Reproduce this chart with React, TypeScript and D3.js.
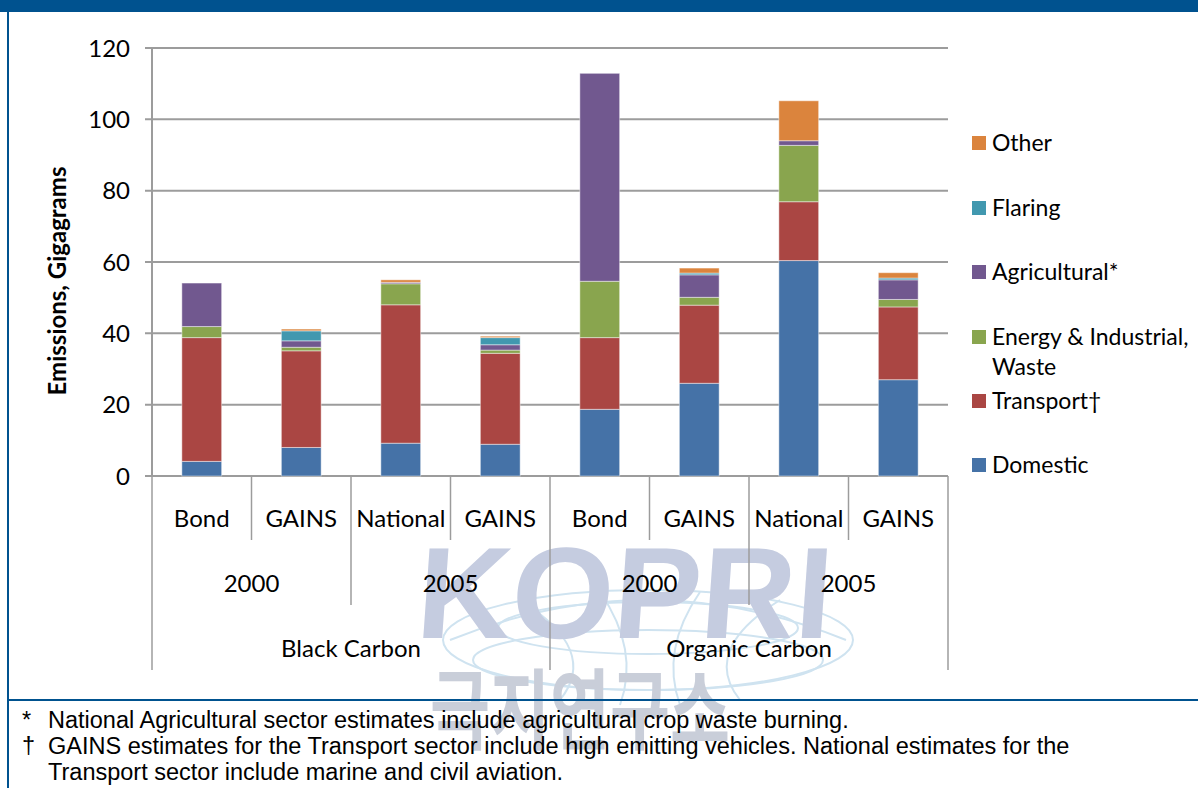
import React from "react";
import * as d3 from "d3";

// Emissions by sector (Gigagrams) for each inventory
const inventories = ["Bond", "GAINS", "National", "GAINS", "Bond", "GAINS", "National", "GAINS"];
const years = ["2000", "2005", "2000", "2005"];
const species = ["Black Carbon", "Organic Carbon"];

const domestic = [4.1, 8.0, 9.2, 8.9, 18.7, 26.0, 60.4, 27.0];
const transport = [34.7, 27.1, 38.8, 25.5, 20.1, 21.9, 16.5, 20.4];
const energy = [3.1, 1.0, 5.9, 0.9, 15.8, 2.2, 15.8, 2.1];
const agricultural = [12.2, 1.8, 0.4, 1.5, 58.3, 6.3, 1.3, 5.5];
const flaring = [0, 2.8, 0, 2.0, 0, 0.5, 0, 0.5];
const other = [0, 0.5, 0.7, 0.4, 0, 1.4, 11.2, 1.5];

const sectorKeys = ["domestic", "transport", "energy", "agricultural", "flaring", "other"];
const sectorLabels: Record<string, string[]> = {
  domestic: ["Domestic"],
  transport: ["Transport†"],
  energy: ["Energy & Industrial,", "Waste"],
  agricultural: ["Agricultural*"],
  flaring: ["Flaring"],
  other: ["Other"],
};
const sectorColors: Record<string, string> = {
  domestic: "#4572A7",
  transport: "#AA4643",
  energy: "#89A54E",
  agricultural: "#71588F",
  flaring: "#4198AF",
  other: "#DB843D",
};

const yTicks = [0, 20, 40, 60, 80, 100, 120];

const footnotes = [
  ["*", "National Agricultural sector estimates include agricultural crop waste burning."],
  ["†", "GAINS estimates for the Transport sector include high emitting vehicles. National estimates for the"],
  ["", "Transport sector include marine and civil aviation."],
];

const W = 1198;
const H = 788;
const plot = { left: 152, right: 948, top: 48, bottom: 476 };
const BLUE = "#00528F";
const GRID = "#9c9c9c";
const LABEL_FONT = "Lato, 'Open Sans', sans-serif";

export default function App() {
  const rows = inventories.map((_, i) => ({
    domestic: domestic[i],
    transport: transport[i],
    energy: energy[i],
    agricultural: agricultural[i],
    flaring: flaring[i],
    other: other[i],
  }));
  const stacked = d3.stack<any>().keys(sectorKeys)(rows);

  const x = d3
    .scaleBand<number>()
    .domain(inventories.map((_, i) => i))
    .range([plot.left, plot.right])
    .paddingInner(0.6)
    .paddingOuter(0.3);
  const step = x.step();
  const y = d3.scaleLinear().domain([0, 120]).range([plot.bottom, plot.top]);

  // category boundaries at three levels of the axis
  const boundary = (k: number) => plot.left + k * step;
  const sepLines: { x: number; y2: number }[] = [];
  for (let k = 0; k <= inventories.length; k++) {
    let y2 = 540;
    if (k % 4 === 0) y2 = 670;
    else if (k % 2 === 0) y2 = 605;
    sepLines.push({ x: boundary(k), y2 });
  }

  const legendY: Record<string, number> = {
    other: 143,
    flaring: 208,
    agricultural: 272,
    energy: 337,
    transport: 401,
    domestic: 465,
  };

  return (
    <svg
      width={W}
      height={H}
      style={{ position: "absolute", left: 0, top: 0, background: "#fff" }}
    >
      <rect x={0} y={0} width={W} height={H} fill="#fff" />

      {/* KOPRI watermark */}
      <g>
        <g fill="none" stroke="#cfe3f0" strokeWidth={2}>
          <ellipse cx={648} cy={640} rx={205} ry={50} />
          <ellipse cx={648} cy={628} rx={150} ry={26} />
          <ellipse cx={648} cy={660} rx={175} ry={30} />
          <path d="M520,600 Q600,650 560,700" />
          <path d="M600,592 Q640,650 620,705" />
          <path d="M700,592 Q660,650 680,705" />
          <path d="M780,600 Q700,650 740,700" />
          <path d="M450,640 Q648,560 846,640" />
        </g>
        <text
          x={415}
          y={638}
          fontFamily="'Liberation Sans', Arial, sans-serif"
          fontWeight={700}
          fontSize={130}
          fill="#c5cce0"
          textLength={415}
          lengthAdjust="spacingAndGlyphs"
          transform="skewX(-4) translate(44,0)"
        >
          KOPRI
        </text>
        <text
          x={430}
          y={742}
          fontFamily="'Noto Sans CJK KR', sans-serif"
          fontWeight={700}
          fontSize={88}
          fill="#c9ced9"
          textLength={300}
          lengthAdjust="spacingAndGlyphs"
        >
          극지연구소
        </text>
      </g>

      {/* frame */}
      <rect x={0} y={0} width={W} height={12} fill={BLUE} />
      <rect x={7} y={0} width={2} height={H} fill={BLUE} />
      <rect x={7} y={699} width={W - 7} height={2} fill={BLUE} />

      {/* gridlines */}
      {yTicks.map((t) => (
        <line
          key={`g${t}`}
          x1={plot.left - 7}
          x2={plot.right}
          y1={y(t)}
          y2={y(t)}
          stroke={GRID}
          strokeWidth={2}
        />
      ))}
      <line x1={plot.left} x2={plot.left} y1={plot.top} y2={plot.bottom} stroke={GRID} strokeWidth={2} />

      {/* y tick labels */}
      {yTicks.map((t) => (
        <text
          key={`t${t}`}
          x={130}
          y={y(t)}
          dy="0.36em"
          textAnchor="end"
          fontFamily={LABEL_FONT}
          fontSize={24}
          fill="#000"
        >
          {t}
        </text>
      ))}
      <text
        transform={`translate(66,${(plot.top + plot.bottom) / 2 + 19}) rotate(-90)`}
        textAnchor="middle"
        fontFamily={LABEL_FONT}
        fontWeight={700}
        fontSize={24}
        fill="#000"
      >
        Emissions, Gigagrams
      </text>

      {/* stacked bars */}
      {stacked.map((layer) => (
        <g key={layer.key} fill={sectorColors[layer.key]}>
          {layer.map((d, i) =>
            d[1] - d[0] > 0 ? (
              <rect
                key={i}
                x={x(i)}
                width={x.bandwidth()}
                y={y(d[1])}
                height={y(d[0]) - y(d[1])}
                stroke="#ffffff"
                strokeOpacity={0.45}
                strokeWidth={1}
              />
            ) : null
          )}
        </g>
      ))}

      {/* multi-level category axis */}
      {sepLines.map((s, k) => (
        <line key={`s${k}`} x1={s.x} x2={s.x} y1={plot.bottom} y2={s.y2} stroke={GRID} strokeWidth={1.5} />
      ))}
      {inventories.map((name, i) => (
        <text
          key={`c${i}`}
          x={(x(i) as number) + x.bandwidth() / 2}
          y={518}
          dy="0.36em"
          textAnchor="middle"
          fontFamily={LABEL_FONT}
          fontSize={24}
          fill="#000"
        >
          {name}
        </text>
      ))}
      {years.map((yr, j) => (
        <text
          key={`y${j}`}
          x={boundary(j * 2) + step}
          y={583}
          dy="0.36em"
          textAnchor="middle"
          fontFamily={LABEL_FONT}
          fontSize={24}
          fill="#000"
        >
          {yr}
        </text>
      ))}
      {species.map((sp, j) => (
        <text
          key={`sp${j}`}
          x={boundary(j * 4) + step * 2}
          y={648}
          dy="0.36em"
          textAnchor="middle"
          fontFamily={LABEL_FONT}
          fontSize={24}
          fill="#000"
        >
          {sp}
        </text>
      ))}

      {/* legend */}
      {sectorKeys.map((k) => (
        <g key={`l${k}`}>
          <rect x={972} y={legendY[k] - 7} width={14} height={14} fill={sectorColors[k]} />
          {sectorLabels[k].map((line, li) => (
            <text
              key={li}
              x={992}
              y={legendY[k] + li * 30}
              dy="0.36em"
              fontFamily={LABEL_FONT}
              fontSize={23}
              fill="#000"
            >
              {line}
            </text>
          ))}
        </g>
      ))}

      {/* footnotes */}
      {footnotes.map(([mark, txt], i) => (
        <g key={`f${i}`} fontFamily="'Liberation Sans', Arial, sans-serif" fontSize={23.5} fill="#000">
          <text x={22} y={728 + i * 26}>{mark}</text>
          <text x={48} y={728 + i * 26}>{txt}</text>
        </g>
      ))}
    </svg>
  );
}
